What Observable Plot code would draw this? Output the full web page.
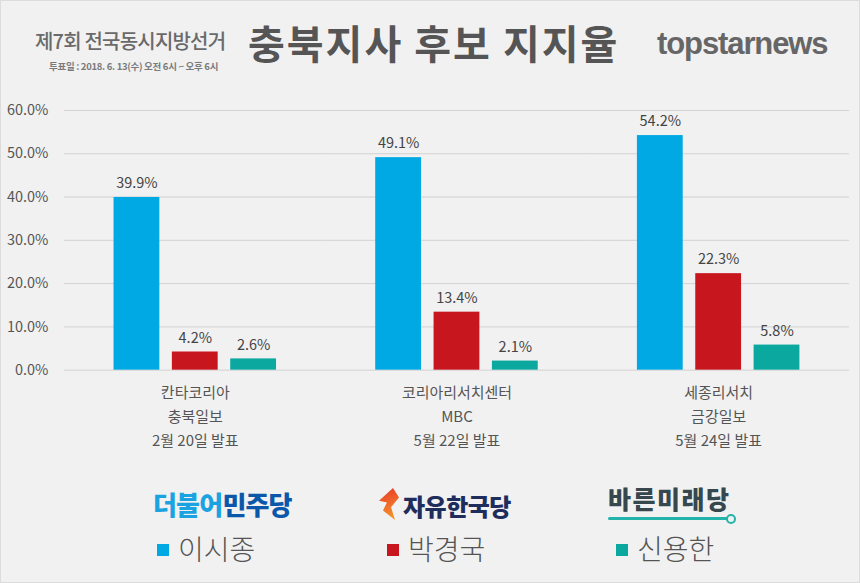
<!DOCTYPE html>
<html>
<head>
<meta charset="utf-8">
<script src="https://cdn.jsdelivr.net/npm/d3@7"></script>
<script src="https://cdn.jsdelivr.net/npm/@observablehq/plot@0.6"></script>
<style>
  html, body { margin: 0; padding: 0; background: #f1f1f1; }
  #page { position: relative; width: 858px; height: 581px; border: 1px solid #dcdcdc; background: #f1f1f1; overflow: hidden; font-family: "Noto Sans CJK KR", "Noto Sans", sans-serif; }
  .abs { position: absolute; white-space: nowrap; line-height: 1; }
  #chart { position: absolute; left: -1px; top: 89px; }
  .sq { display: inline-block; width: 12px; height: 12px; margin-right: 9px; vertical-align: middle; position: relative; top: -2px; }
</style>
</head>
<body>
<div id="page">
  <div class="abs" style="left:34px; top:30px; font-size:20px; color:#6a6a6a; font-weight:500; letter-spacing:-0.8px;">제7회 전국동시지방선거</div>
  <div class="abs" style="left:48px; top:61px; font-size:9.5px; color:#7a7a7a; font-weight:700; letter-spacing:-0.3px;">투표일 : 2018. 6. 13(수) 오전 6시 ~ 오후 6시</div>
  <div class="abs" style="left:247px; top:21px; font-size:40px; color:#555; font-weight:700; letter-spacing:2px;">충북지사 후보 지지율</div>
  <div class="abs" style="left:656px; top:27px; font-size:31px; color:#666; font-weight:700; letter-spacing:-1.1px; font-family:'Liberation Sans', Arial, sans-serif;">topstarnews</div>
  <div id="chart"></div>
  <div class="abs" id="legend" style="left:0; top:0;"></div>
</div>
<script>
const groups = ["칸타코리아\n충북일보\n2월 20일 발표", "코리아리서치센터\nMBC\n5월 22일 발표", "세종리서치\n금강일보\n5월 24일 발표"];
const candidates = ["이시종", "박경국", "신용한"];
const parties = ["더불어민주당", "자유한국당", "바른미래당"];
const colors = ["#00a8e4", "#c8161e", "#0aa89f"];
const leeSijong = [39.9, 49.1, 54.2];
const parkGyeongguk = [4.2, 13.4, 22.3];
const shinYonghan = [2.6, 2.1, 5.8];
const yTicks = [0, 10, 20, 30, 40, 50, 60];

const series = [leeSijong, parkGyeongguk, shinYonghan];
const data = [];
groups.forEach((g, gi) => {
  candidates.forEach((c, ci) => {
    data.push({group: g, candidate: c, value: series[ci][gi]});
  });
});

const chart = Plot.plot({
  width: 860,
  height: 366,
  marginTop: 20,
  marginBottom: 86,
  marginLeft: 64,
  marginRight: 10,
  style: {background: "transparent", fontFamily: "'Noto Sans CJK KR', sans-serif"},
  fx: {domain: groups, padding: 0, label: null},
  x: {domain: candidates, paddingInner: 0.215, paddingOuter: 0.85, round: false, axis: null},
  y: {domain: [0, 60], ticks: yTicks, label: null},
  color: {domain: candidates, range: colors},
  marks: [
    Plot.gridY(yTicks, {stroke: "#d2d2d2", strokeOpacity: 1, strokeWidth: 1}),
    Plot.barY(data, {fx: "group", x: "candidate", y: "value", fill: "candidate"}),
    Plot.text(data, {fx: "group", x: "candidate", y: "value", text: d => d.value.toFixed(1) + "%", dy: -14, fontSize: 14.5, fill: "#444"}),
    Plot.axisY(yTicks, {tickSize: 0, tickPadding: 16, tickFormat: d => d.toFixed(1) + "%", fontSize: 14.5, fill: "#555", label: null}),
    Plot.axisFx({anchor: "bottom", tickSize: 0, tickPadding: 11, lineHeight: 1.6, fontSize: 15, fill: "#555", label: null})
  ]
});
document.getElementById("chart").appendChild(chart);

// Legend (HTML)
const legend = document.getElementById("legend");
const logoSpecs = [
  {left: 152, top: 490, html: '<span style="color:#1ba3e1">더불어</span><span style="color:#0b58aa">민주당</span>', size: 26, ls: -0.8},
  {left: 402, top: 493, html: '<span style="color:#1f2d5c">자유한국당</span>', size: 24, ls: -0.5},
  {left: 607, top: 485, html: '<span style="color:#36474e">바른미래당</span>', size: 25, ls: 1.5}
];
logoSpecs.forEach(s => {
  const d = document.createElement("div");
  d.className = "abs";
  d.style.cssText = `left:${s.left}px; top:${s.top}px; font-size:${s.size}px; font-weight:900; letter-spacing:${s.ls}px;`;
  d.innerHTML = s.html;
  legend.appendChild(d);
});
// decorative flame for 자유한국당 and underline for 바른미래당
const flame = document.createElement("div");
flame.className = "abs";
flame.style.cssText = "left:378px; top:487px; width:20px; height:32px; background:linear-gradient(160deg,#e8362b,#f6a02a); clip-path:polygon(70% 0,100% 30%,60% 60%,80% 100%,20% 70%,40% 45%,0 40%);";
legend.appendChild(flame);
const uline = document.createElement("div");
uline.className = "abs";
uline.style.cssText = "left:607px; top:516px; width:120px; height:3px; background:#22b3aa; border-radius:2px;";
legend.appendChild(uline);
const ring = document.createElement("div");
ring.className = "abs";
ring.style.cssText = "left:725px; top:513px; width:6px; height:6px; border:2px solid #22b3aa; border-radius:50%;";
legend.appendChild(ring);

const itemLefts = [156, 386, 615];
candidates.forEach((c, i) => {
  const d = document.createElement("div");
  d.className = "abs";
  d.style.cssText = `left:${itemLefts[i]}px; top:533px; font-size:28px; font-weight:300; color:#555;`;
  d.innerHTML = `<span class="sq" style="background:${colors[i]}"></span>${c}`;
  legend.appendChild(d);
});
</script>
</body>
</html>
